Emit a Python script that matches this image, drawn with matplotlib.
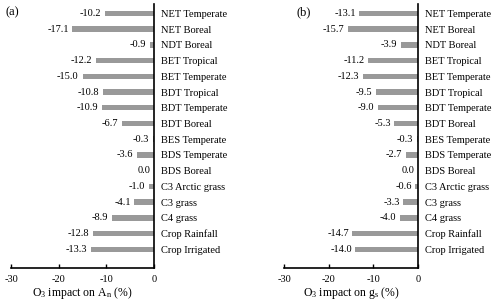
import numpy as np
import matplotlib
matplotlib.use("Agg")
from matplotlib import pyplot as plt

plt.rcParams["font.family"] = ["Liberation Serif", "DejaVu Serif"]
plt.rcParams["mathtext.fontset"] = "custom"
plt.rcParams["mathtext.rm"] = "Liberation Serif"
plt.rcParams["mathtext.it"] = "Liberation Serif"

pfts = ["NET Temperate", "NET Boreal", "NDT Boreal", "BET Tropical", "BET Temperate",
        "BDT Tropical", "BDT Temperate", "BDT Boreal", "BES Temperate", "BDS Temperate",
        "BDS Boreal", "C3 Arctic grass", "C3 grass", "C4 grass", "Crop Rainfall",
        "Crop Irrigated"]
impact_an = [-10.2, -17.1, -0.9, -12.2, -15.0, -10.8, -10.9, -6.7, -0.3, -3.6,
             0.0, -1.0, -4.1, -8.9, -12.8, -13.3]
impact_gs = [-13.1, -15.7, -3.9, -11.2, -12.3, -9.5, -9.0, -5.3, -0.3, -2.7,
             0.0, -0.6, -3.3, -4.0, -14.7, -14.0]
xticks = [-30, -20, -10, 0]

fig = plt.figure(figsize=(5, 3.04), dpi=100)
ax1 = fig.add_axes([0.022, 0.118, 0.286, 0.869])
ax2 = fig.add_axes([0.568, 0.118, 0.268, 0.869])


def draw(ax, vals, panel, panel_x, xlabel):
    y = np.arange(len(vals))
    ax.barh(y, vals, height=0.35, color="#999999")
    for yi, v in zip(y, vals):
        ax.text(v - 0.8, yi, "%.1f" % v, ha="right", va="center", fontsize=7.5)
    ax.set_xlim(-30, 0)
    ax.set_ylim(len(vals) + 0.2, -0.6)
    ax.set_xticks(xticks)
    ax.set_xticklabels([str(t) for t in xticks], fontsize=7.5)
    ax.tick_params(axis="x", direction="in", length=3, width=1, pad=5)
    ax.yaxis.tick_right()
    ax.set_yticks(y)
    ax.set_yticklabels(pfts, fontsize=7.5)
    ax.tick_params(axis="y", length=0, pad=5)
    ax.spines["left"].set_visible(False)
    ax.spines["top"].set_visible(False)
    ax.spines["right"].set_linewidth(1.2)
    ax.spines["bottom"].set_linewidth(1.2)
    ax.set_xlabel(xlabel, fontsize=8.5, labelpad=1)
    ax.text(panel_x, 0.99, panel, transform=ax.transAxes,
            fontsize=9, va="top", ha="left")


draw(ax1, impact_an, "(a)", -0.035, r"O$_3$ impact on A$_\mathrm{n}$ (%)")
draw(ax2, impact_gs, "(b)", 0.09, r"O$_3$ impact on g$_\mathrm{s}$ (%)")

fig.savefig("out.png", dpi=100)
